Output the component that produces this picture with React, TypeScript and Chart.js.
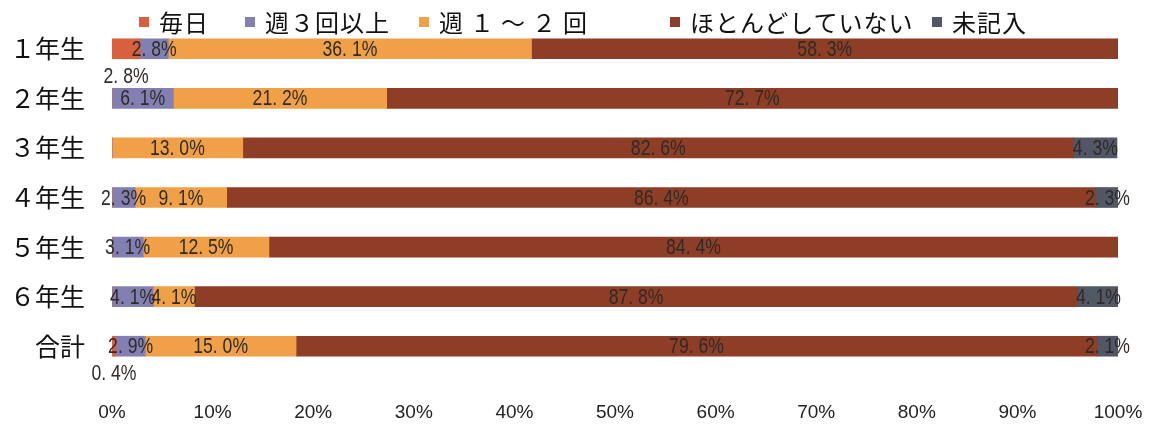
import React, { useEffect, useRef } from "react";
import { Chart, registerables } from "chart.js";

Chart.register(...registerables);

const CATEGORIES = ["１年生", "２年生", "３年生", "４年生", "５年生", "６年生", "合計"];
const SERIES_NAMES = ["毎日", "週３回以上", "週１～２回", "ほとんどしていない", "未記入"];
const EVERY_DAY = [2.8, 0, 0, 0, 0, 0, 0.4];
const THREE_PLUS = [2.8, 6.1, 0, 2.3, 3.1, 4.1, 2.9];
const ONE_TWO = [36.1, 21.2, 13.0, 9.1, 12.5, 4.1, 15.0];
const HARDLY = [58.3, 72.7, 82.6, 86.4, 84.4, 87.8, 79.6];
const NO_ANSWER = [0, 0, 4.3, 2.3, 0, 4.1, 2.1];
const X_TICKS = ["0%", "10%", "20%", "30%", "40%", "50%", "60%", "70%", "80%", "90%", "100%"];
const COLORS = ["#D6613C", "#8280B2", "#F0A047", "#8E3E27", "#515765"];

const NUM_FONT = '"Liberation Sans", Arial, sans-serif';
const JP_FONT = '"Noto Sans CJK JP", "Noto Sans", sans-serif';

// legend item left edges (style only)
const LEGEND_LEFT = [139, 245, 419, 670, 932];

function fmt(v: number) {
  const s = v.toFixed(1).split(".");
  return `${s[0]}. ${s[1]}%`;
}

const labelPlugin = {
  id: "segLabels",
  afterDatasetsDraw(chart: any) {
    const ctx = chart.ctx;
    chart.data.datasets.forEach((ds: any, di: number) => {
      const meta = chart.getDatasetMeta(di);
      meta.data.forEach((bar: any, i: number) => {
        const v = ds.data[i];
        if (!v || v <= 0) return;
        const cx = (bar.x + bar.base) / 2;
        let cy = bar.y;
        if (di === 0) cy += 27;
        ctx.save();
        ctx.translate(cx, cy + 1);
        ctx.scale(0.8, 1);
        ctx.font = `22px ${NUM_FONT}`;
        ctx.fillStyle = "#2e2a26";
        ctx.textAlign = "center";
        ctx.textBaseline = "middle";
        ctx.fillText(fmt(v), 0, 0);
        ctx.restore();
      });
    });
  },
};

export default function App() {
  const ref = useRef<HTMLCanvasElement | null>(null);

  useEffect(() => {
    document.body.style.margin = "0";
    const datasets = [EVERY_DAY, THREE_PLUS, ONE_TWO, HARDLY, NO_ANSWER].map((d, i) => ({
      label: SERIES_NAMES[i],
      data: d,
      backgroundColor: COLORS[i],
      borderWidth: 0,
      barThickness: 20,
    }));
    const chart = new Chart(ref.current as HTMLCanvasElement, {
      type: "bar",
      data: { labels: CATEGORIES, datasets },
      options: {
        indexAxis: "y",
        animation: false,
        responsive: true,
        maintainAspectRatio: false,
        layout: { padding: { top: 24, right: 35, left: 0, bottom: 0 } },
        plugins: { legend: { display: false }, tooltip: { enabled: false } },
        scales: {
          x: {
            stacked: true,
            min: 0,
            max: 100,
            grid: { display: false },
            border: { display: false },
            ticks: {
              stepSize: 10,
              padding: 22,
              color: "#222",
              font: { family: NUM_FONT, size: 19 },
              callback: (_v: any, idx: number) => X_TICKS[idx],
            },
            afterFit: (s: any) => {
              s.height = 58;
              s.paddingLeft = 0;
              s.paddingRight = 0;
            },
          },
          y: {
            stacked: true,
            grid: { display: false },
            border: { display: false },
            ticks: {
              padding: 19,
              color: "#111",
              font: { family: JP_FONT, size: 25 },
            },
            afterFit: (s: any) => {
              s.width = 112;
              s.paddingTop = 0;
              s.paddingBottom = 0;
            },
          },
        },
      },
      plugins: [labelPlugin],
    } as any);
    return () => chart.destroy();
  }, []);

  return (
    <div style={{ position: "relative", width: 1153, height: 429, background: "#fff" }}>
      <canvas ref={ref} />
      {SERIES_NAMES.map((n, i) => (
        <div
          key={n}
          style={{
            position: "absolute",
            top: 6,
            left: LEGEND_LEFT[i],
            display: "flex",
            alignItems: "center",
            fontFamily: JP_FONT,
            fontSize: 24,
            lineHeight: "32px",
            color: "#111",
            whiteSpace: "nowrap",
            letterSpacing: i === 2 ? 7 : 1,
          }}
        >
          <span style={{ display: "inline-block", width: 10, height: 10, background: COLORS[i], marginRight: 10 }} />
          <span>{n}</span>
        </div>
      ))}
    </div>
  );
}
